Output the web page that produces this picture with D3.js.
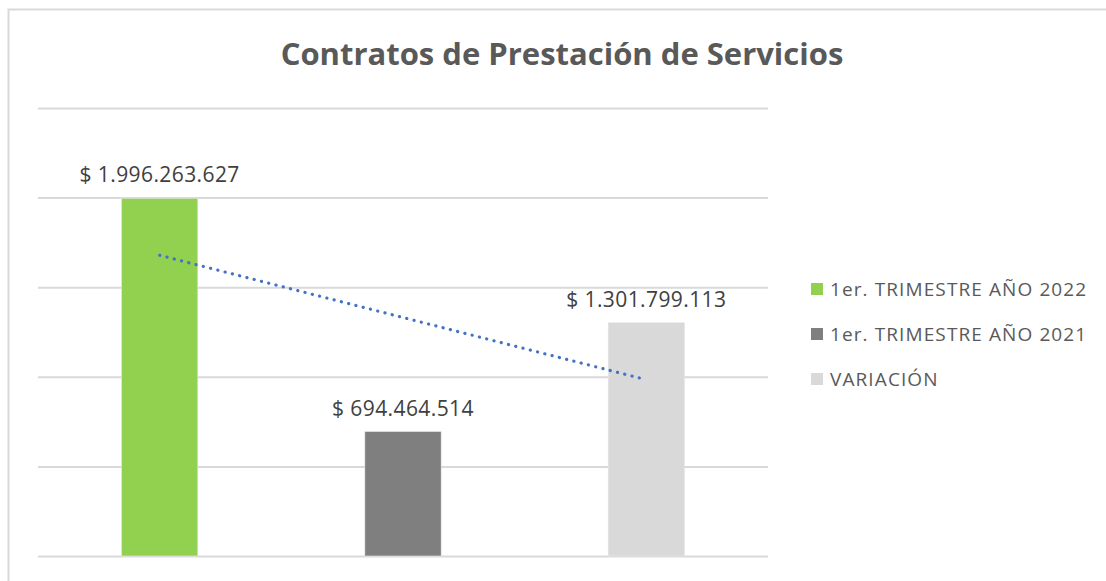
<!DOCTYPE html>
<html>
<head>
<meta charset="utf-8">
<script src="https://cdn.jsdelivr.net/npm/d3@7"></script>
<style>
  body { margin: 0; background: #fff; }
  svg { display: block; font-family: "Open Sans", sans-serif; }
</style>
</head>
<body>
<svg id="chart" width="1106" height="581"></svg>
<script>
const categories = ["1er. TRIMESTRE AÑO 2022", "1er. TRIMESTRE AÑO 2021", "VARIACIÓN"];
const values = [1996263627, 694464514, 1301799113];
const colors = ["#92d050", "#7f7f7f", "#d9d9d9"];
const gridTicks = [0, 500000000, 1000000000, 1500000000, 2000000000, 2500000000];

const svg = d3.select("#chart");

// chart area border
svg.append("rect")
    .attr("x", 8.5).attr("y", 9.5)
    .attr("width", 1120).attr("height", 600)
    .attr("fill", "#fff")
    .attr("stroke", "#d9d9d9")
    .attr("stroke-width", 2);

const margin = { top: 108, left: 38 },
    width = 730,
    height = 448;

const g = svg.append("g")
    .attr("transform", `translate(${margin.left}, ${margin.top})`);

const x = d3.scaleBand()
    .domain(categories)
    .range([0, width]);

const y = d3.scaleLinear()
    .domain([0, d3.max(gridTicks)])
    .range([height, 0]);

const es = d3.formatLocale({ decimal: ",", thousands: ".", grouping: [3], currency: ["$ ", ""] });
const fmt = es.format("$,.0f");

// gridlines
g.append("g")
    .call(d3.axisLeft(y).tickValues(gridTicks).tickSize(-width).tickFormat(""))
    .call(a => a.select(".domain").remove())
    .selectAll("line")
    .attr("stroke", "#d9d9d9")
    .attr("stroke-width", 2);

// bars (gap width ~219%)
const barW = x.bandwidth() / 3.19;
g.selectAll(".bar")
    .data(values)
    .join("rect")
    .attr("class", "bar")
    .attr("x", (d, i) => x(categories[i]) + (x.bandwidth() - barW) / 2)
    .attr("y", d => y(d))
    .attr("width", barW)
    .attr("height", d => height - y(d))
    .attr("fill", (d, i) => colors[i])
    .attr("stroke", "#e6e6e6")
    .attr("stroke-width", 0.6);

// data labels
g.selectAll(".label")
    .data(values)
    .join("text")
    .attr("class", "label")
    .attr("x", (d, i) => x(categories[i]) + x.bandwidth() / 2)
    .attr("y", d => y(d) - 16)
    .attr("text-anchor", "middle")
    .attr("fill", "#404040")
    .style("font-size", "21px")
    .style("letter-spacing", "0.4px")
    .text(d => fmt(d));

// linear trendline (least squares over the bars)
const xs = values.map((d, i) => i + 1);
const mx = d3.mean(xs), my = d3.mean(values);
const slope = d3.sum(xs, (xi, i) => (xi - mx) * (values[i] - my)) / d3.sum(xs, xi => (xi - mx) ** 2);
const trend = xs.map(xi => my + slope * (xi - mx));
const cx = i => x(categories[i]) + x.bandwidth() / 2;

g.append("line")
    .attr("x1", cx(0)).attr("y1", y(trend[0]))
    .attr("x2", cx(2)).attr("y2", y(trend[2]))
    .attr("stroke", "#4472c4")
    .attr("stroke-width", 3.2)
    .attr("stroke-linecap", "round")
    .attr("stroke-dasharray", "0.1 7.4");

// title
svg.append("text")
    .attr("x", 562)
    .attr("y", 65)
    .attr("text-anchor", "middle")
    .attr("fill", "#595959")
    .style("font-size", "31px")
    .style("font-weight", "bold")
    .text("Contratos de Prestación de Servicios");

// legend
const legend = svg.append("g")
    .attr("transform", "translate(811, 283)");

const item = legend.selectAll("g")
    .data(categories)
    .join("g")
    .attr("transform", (d, i) => `translate(0, ${i * 45})`);

item.append("rect")
    .attr("width", 12).attr("height", 12)
    .attr("fill", (d, i) => colors[i]);

item.append("text")
    .attr("x", 19)
    .attr("y", 13)
    .attr("fill", "#595959")
    .style("font-size", "19px")
    .style("letter-spacing", "1.1px")
    .text(d => d);
</script>
</body>
</html>
